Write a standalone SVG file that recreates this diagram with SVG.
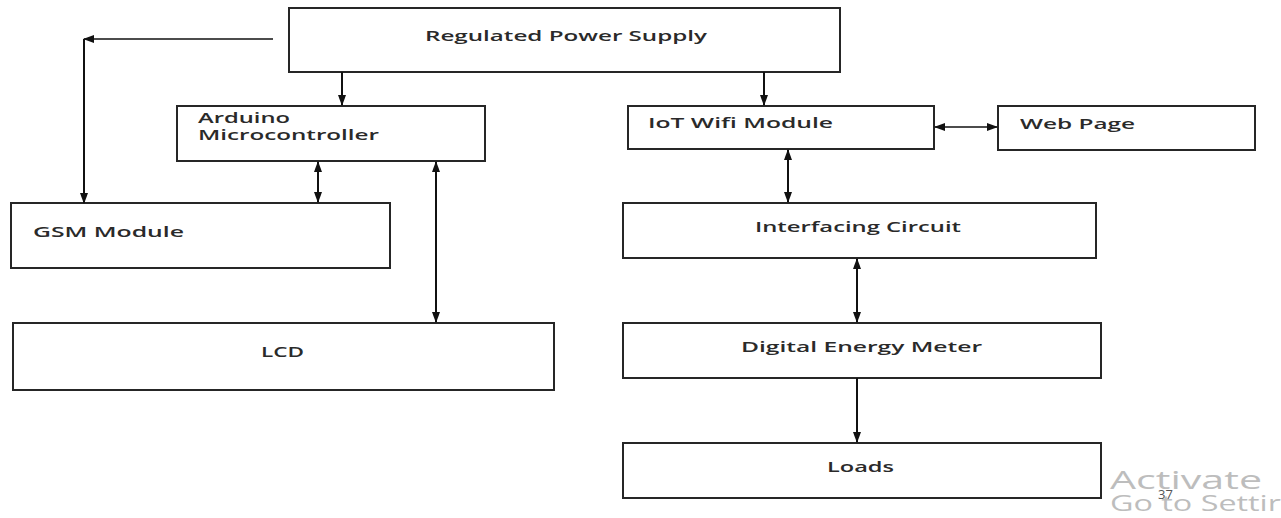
<svg xmlns="http://www.w3.org/2000/svg" width="1281" height="518" viewBox="0 0 1281 518">
<style>
.box{fill:#fff;stroke:#262626;stroke-width:2}
.lbl{font-family:"Open Sans","Liberation Sans",sans-serif;font-size:14.5px;font-weight:600;fill:#2a2a2a}
.c{stroke:#111;stroke-width:2;fill:none}
.t{stroke:#111;stroke-width:1.3;fill:none}
.wm{font-family:"Open Sans","Liberation Sans",sans-serif;fill:#bdbdbd}
</style>
<defs>
<marker id="ah" markerWidth="11" markerHeight="10" refX="10" refY="5" orient="auto-start-reverse" markerUnits="userSpaceOnUse">
<path d="M0,1 L11,5 L0,9 Z" fill="#111"/>
</marker>
</defs>
<rect width="1281" height="518" fill="#fff"/>
<g id="rps"><rect class="box" x="289" y="8" width="551" height="64"/><text class="lbl" x="425" y="41" textLength="282" lengthAdjust="spacingAndGlyphs">Regulated Power Supply</text></g>
<g id="arduino"><rect class="box" x="177" y="106" width="308" height="55"/><text class="lbl" x="198" y="123" textLength="92" lengthAdjust="spacingAndGlyphs">Arduino</text><text class="lbl" x="198" y="140" textLength="181" lengthAdjust="spacingAndGlyphs">Microcontroller</text></g>
<g id="gsm"><rect class="box" x="11" y="203" width="379" height="65"/><text class="lbl" x="33" y="237" textLength="151" lengthAdjust="spacingAndGlyphs">GSM Module</text></g>
<g id="lcd"><rect class="box" x="13" y="323" width="541" height="67"/><text class="lbl" x="261" y="357" textLength="43" lengthAdjust="spacingAndGlyphs">LCD</text></g>
<g id="iot"><rect class="box" x="628" y="106" width="306" height="43"/><text class="lbl" x="648" y="128" textLength="185" lengthAdjust="spacingAndGlyphs">IoT Wifi Module</text></g>
<g id="web"><rect class="box" x="998" y="106" width="257" height="44"/><text class="lbl" x="1020" y="129" textLength="115" lengthAdjust="spacingAndGlyphs">Web Page</text></g>
<g id="interfacing"><rect class="box" x="623" y="203" width="473" height="55"/><text class="lbl" x="755" y="232" textLength="206" lengthAdjust="spacingAndGlyphs">Interfacing Circuit</text></g>
<g id="dem"><rect class="box" x="623" y="323" width="478" height="55"/><text class="lbl" x="741" y="352" textLength="241" lengthAdjust="spacingAndGlyphs">Digital Energy Meter</text></g>
<g id="loads"><rect class="box" x="623" y="443" width="478" height="55"/><text class="lbl" x="827" y="472" textLength="67" lengthAdjust="spacingAndGlyphs">Loads</text></g>
<g id="connectors">
<line class="t" x1="273" y1="39" x2="84" y2="39" marker-end="url(#ah)"/>
<line class="c" x1="84" y1="39" x2="84" y2="203" marker-end="url(#ah)"/>
<line class="c" x1="342" y1="72" x2="342" y2="105" marker-end="url(#ah)"/>
<line class="c" x1="318" y1="162" x2="318" y2="202" marker-start="url(#ah)" marker-end="url(#ah)"/>
<line class="c" x1="436" y1="162" x2="436" y2="322" marker-start="url(#ah)" marker-end="url(#ah)"/>
<line class="c" x1="764" y1="72" x2="764" y2="105" marker-end="url(#ah)"/>
<line class="t" x1="935" y1="127" x2="997" y2="127" marker-start="url(#ah)" marker-end="url(#ah)"/>
<line class="c" x1="788" y1="150" x2="788" y2="202" marker-start="url(#ah)" marker-end="url(#ah)"/>
<line class="c" x1="857" y1="259" x2="857" y2="322" marker-start="url(#ah)" marker-end="url(#ah)"/>
<line class="c" x1="857" y1="378" x2="857" y2="442" marker-end="url(#ah)"/>
</g>
<text class="wm" x="1110" y="489" font-size="25" textLength="152" lengthAdjust="spacingAndGlyphs">Activate</text>
<text class="wm" x="1110" y="511" font-size="22" textLength="171" lengthAdjust="spacingAndGlyphs">Go to Settir</text>
<text x="1158" y="499" font-family="Open Sans, Liberation Sans, sans-serif" font-size="13" fill="#555">37</text>
</svg>
